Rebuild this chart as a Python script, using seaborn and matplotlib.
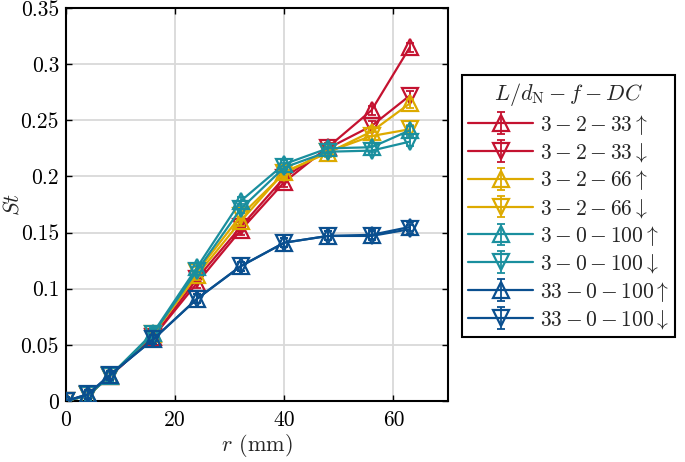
import numpy as np
import pandas as pd
import matplotlib
matplotlib.use("Agg")
import matplotlib.pyplot as plt
import seaborn as sns

# data
r_mm = [0, 4, 8, 16, 24, 32, 40, 48, 56, 63]
st_red_up = [0, 0.005, 0.022, 0.057, 0.105, 0.152, 0.195, 0.226, 0.259, 0.315]
st_red_dn = [0, 0.005, 0.022, 0.057, 0.109, 0.155, 0.199, 0.225, 0.245, 0.272]
st_yel_up = [0, 0.005, 0.022, 0.060, 0.112, 0.160, 0.204, 0.221, 0.240, 0.265]
st_yel_dn = [0, 0.005, 0.022, 0.060, 0.115, 0.165, 0.203, 0.222, 0.236, 0.242]
st_cyan_up = [0, 0.005, 0.022, 0.061, 0.119, 0.178, 0.211, 0.225, 0.226, 0.241]
st_cyan_dn = [0, 0.005, 0.022, 0.060, 0.116, 0.171, 0.208, 0.222, 0.223, 0.231]
st_blue_up = [0, 0.006, 0.023, 0.055, 0.091, 0.120, 0.141, 0.147, 0.148, 0.155]
st_blue_dn = [0, 0.006, 0.023, 0.055, 0.091, 0.120, 0.141, 0.147, 0.147, 0.153]
st_err = 0.004

labels = [r"$3 - 2 - 33 \uparrow$", r"$3 - 2 - 33 \downarrow$",
          r"$3 - 2 - 66 \uparrow$", r"$3 - 2 - 66 \downarrow$",
          r"$3 - 0 - 100 \uparrow$", r"$3 - 0 - 100 \downarrow$",
          r"$33 - 0 - 100 \uparrow$", r"$33 - 0 - 100 \downarrow$"]
series = [st_red_up, st_red_dn, st_yel_up, st_yel_dn,
          st_cyan_up, st_cyan_dn, st_blue_up, st_blue_dn]
colors = ["#C41230", "#C41230", "#DDAA00", "#DDAA00",
          "#1A8F9E", "#1A8F9E", "#0A4F8F", "#0A4F8F"]
markers = ["^", "v", "^", "v", "^", "v", "^", "v"]

x_ticks = [0, 20, 40, 60]
y_ticks = [0, 0.05, 0.1, 0.15, 0.2, 0.25, 0.3, 0.35]
y_ticklabels = ["0", "0.05", "0.1", "0.15", "0.2", "0.25", "0.3", "0.35"]

sns.set_style("whitegrid")
plt.rcParams["font.family"] = ["cmr10", "DejaVu Serif"]
plt.rcParams["mathtext.fontset"] = "cm"
plt.rcParams["axes.formatter.use_mathtext"] = True
plt.rcParams["font.size"] = 15.5

fig = plt.figure(figsize=(6.85, 4.62), dpi=100)
ax = fig.add_axes([66 / 685, 61 / 462, 382 / 685, 393 / 462])

handles = []
for vals, c, m, lab in zip(series, colors, markers, labels):
    sns.lineplot(x=r_mm, y=vals, ax=ax, color=c, marker=m, markersize=11,
                 mfc="none", mec=c, mew=1.6, lw=1.6, zorder=3)
    line = ax.lines[-1]
    eb = ax.errorbar(r_mm, vals, yerr=st_err, fmt="none", ecolor=c,
                     elinewidth=1.3, capsize=3, capthick=1.3, zorder=3)
    handles.append((line, eb))

ax.set_xlim(0, 70)
ax.set_ylim(0, 0.35)
ax.set_xticks(x_ticks)
ax.set_xticklabels([str(t) for t in x_ticks])
ax.set_yticks(y_ticks)
ax.set_yticklabels(y_ticklabels)
ax.set_xlabel(r"$r$ (mm)", fontsize=16, labelpad=1)
ax.set_ylabel(r"$St$", fontsize=16)
ax.yaxis.set_label_coords(-0.115, 0.5)

ax.grid(True, color="#d9d9d9", lw=1.3)
ax.set_axisbelow(True)
for s in ax.spines.values():
    s.set_color("black")
    s.set_linewidth(1.5)
ax.tick_params(direction="in", length=4, width=1, colors="black",
               bottom=True, left=True, top=True, right=True, labelsize=15.5)
ax.tick_params(axis="x", pad=7)
ax.tick_params(axis="y", pad=5)

leg = fig.legend(handles, labels, loc="upper left",
                 bbox_to_anchor=(462 / 685, (462 - 75) / 462),
                 title=r"$L/d_\mathrm{N} - f - DC$", title_fontsize=16,
                 fontsize=15.5, frameon=True, fancybox=False, framealpha=1,
                 edgecolor="black", handlelength=3.0, labelspacing=0.2,
                 borderpad=0.3, handletextpad=0.3, borderaxespad=0)
leg.get_frame().set_linewidth(1.5)

# separator line under the legend title
fig.canvas.draw()
lb = leg.get_window_extent()
tb = leg.get_title().get_window_extent()
ysep = (tb.y0 - 3) / fig.bbox.height
fig.add_artist(plt.Line2D([lb.x0 / fig.bbox.width, lb.x1 / fig.bbox.width],
                          [ysep, ysep], color="black", lw=1.5,
                          transform=fig.transFigure))

fig.savefig("out.png", dpi=100)
